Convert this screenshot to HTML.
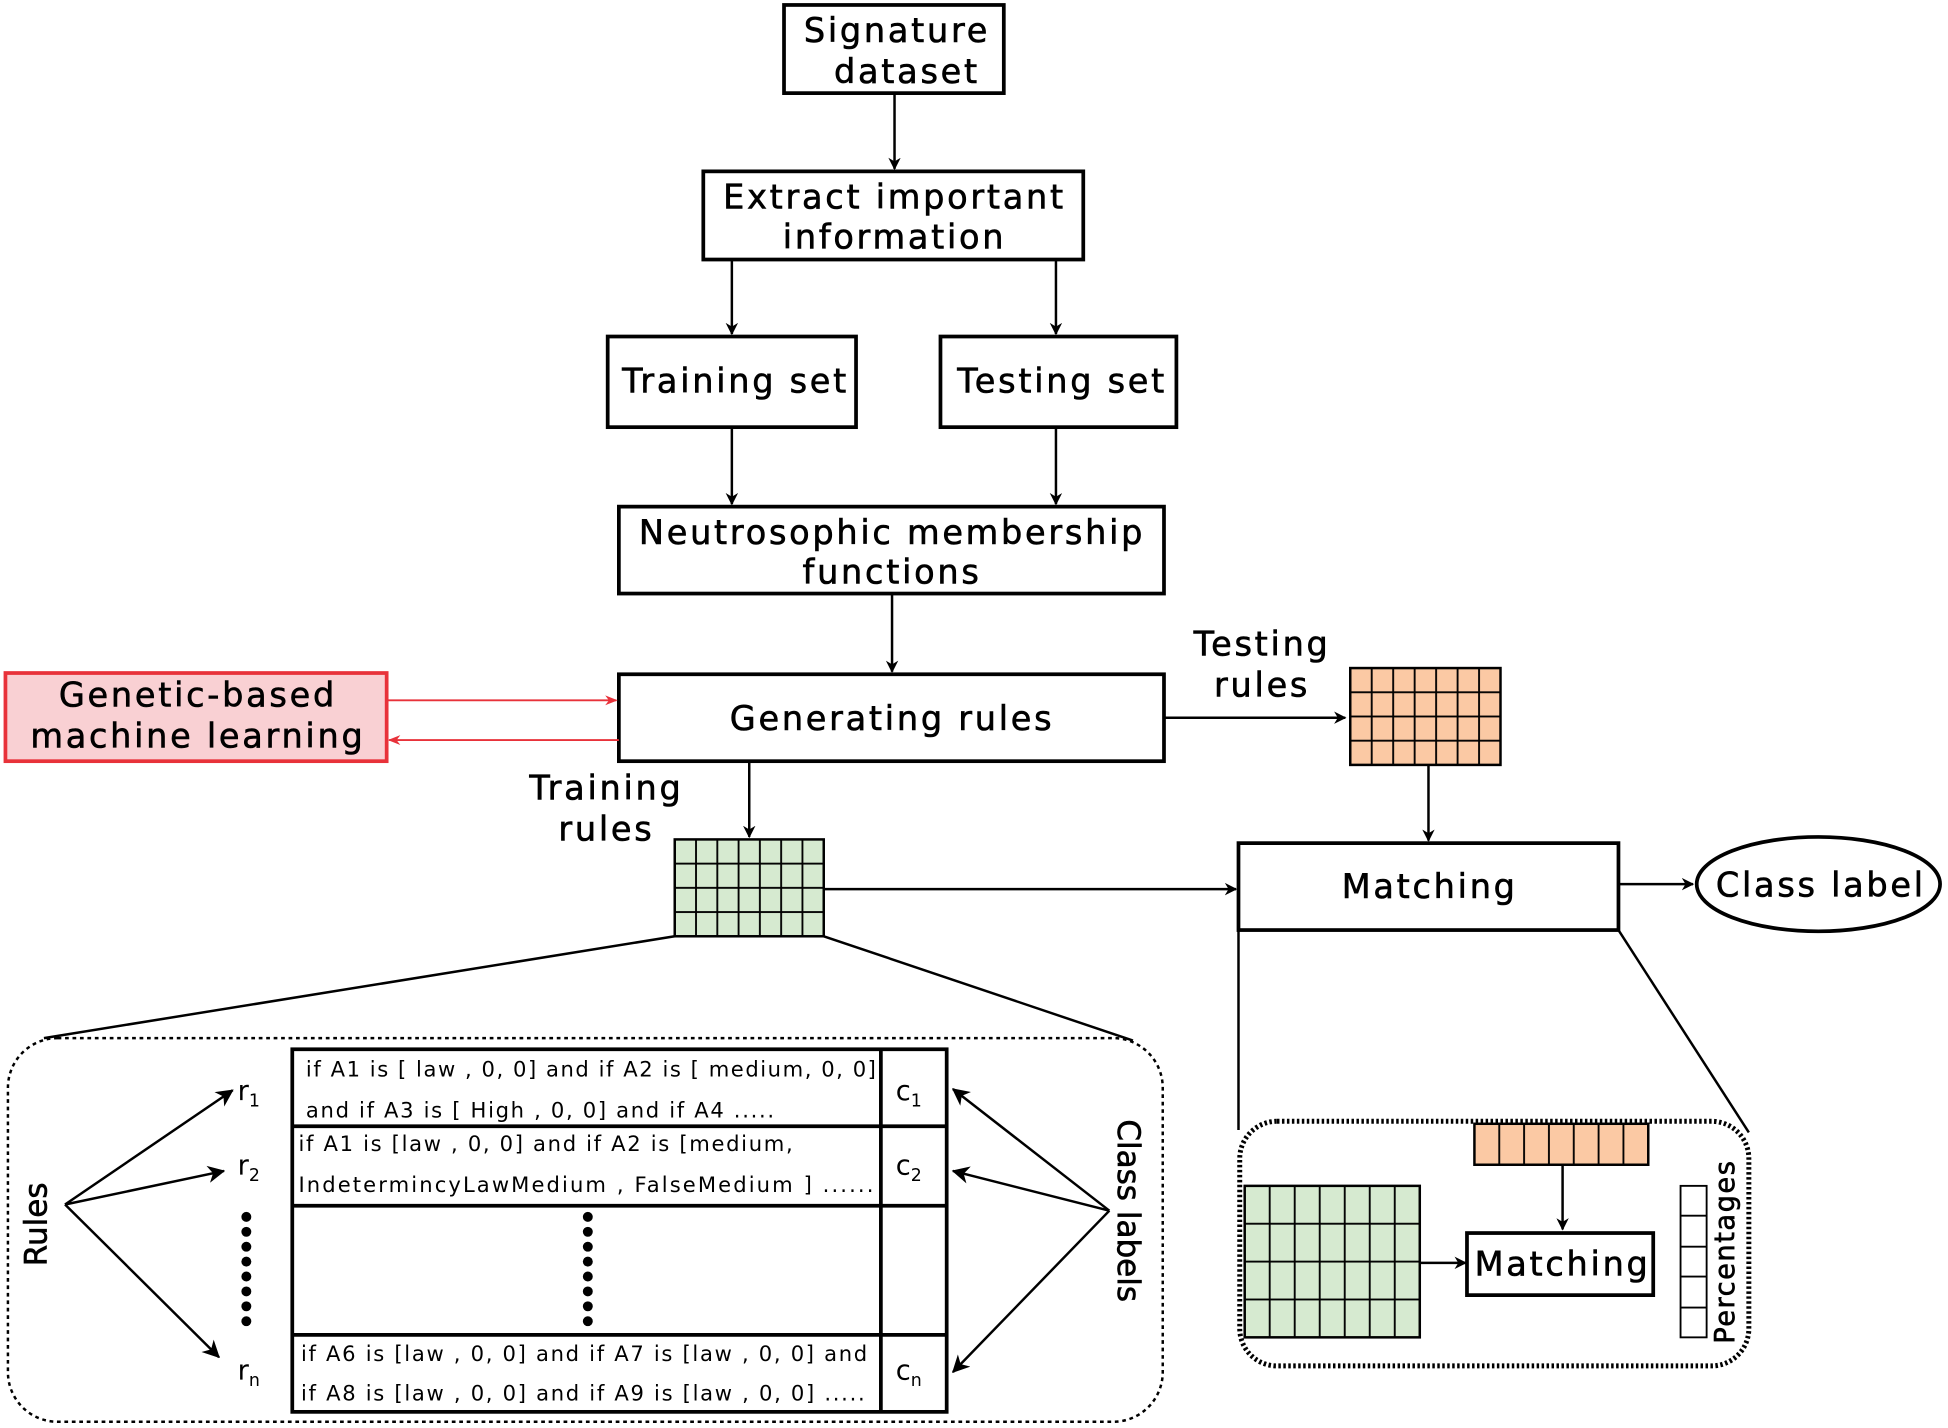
<!DOCTYPE html>
<html><head><meta charset="utf-8"><style>html,body{margin:0;padding:0;background:#fff}svg{display:block}</style></head>
<body>
<svg width="1948" height="1428" viewBox="0 0 1568 1150" xmlns="http://www.w3.org/2000/svg" font-family="'DejaVu Sans','Liberation Sans',sans-serif">
<defs>
<marker id="a" markerWidth="10" markerHeight="10" refX="9" refY="5" orient="auto" markerUnits="userSpaceOnUse" viewBox="0 0 10 10"><path d="M0,0 L10,5 L0,10 L3,5 z" fill="#000"/></marker>
<marker id="b" markerWidth="14" markerHeight="14" refX="13" refY="7" orient="auto" markerUnits="userSpaceOnUse" viewBox="0 0 14 14"><path d="M0,0 L14,7 L0,14 L4,7 z" fill="#000"/></marker>
<marker id="r" markerWidth="10" markerHeight="10" refX="9" refY="5" orient="auto" markerUnits="userSpaceOnUse" viewBox="0 0 10 10"><path d="M0,1 L10,5 L0,9 L3,5 z" fill="#e8323a"/></marker>
<pattern id="gg" x="543" y="676" width="17.14" height="19.5" patternUnits="userSpaceOnUse"><rect width="17.14" height="19.5" fill="#d6ead0" stroke="#000" stroke-width="1.5"/></pattern>
<pattern id="og" x="1087" y="538" width="17.29" height="19.5" patternUnits="userSpaceOnUse"><rect width="17.29" height="19.5" fill="#fbc9a4" stroke="#000" stroke-width="1.5"/></pattern>
<pattern id="gg2" x="1002" y="955" width="20.14" height="30.5" patternUnits="userSpaceOnUse"><rect width="20.14" height="30.5" fill="#d6ead0" stroke="#000" stroke-width="1.5"/></pattern>
<pattern id="og2" x="1187" y="905" width="20" height="33" patternUnits="userSpaceOnUse"><rect width="20" height="33" fill="#fbc9a4" stroke="#000" stroke-width="1.5"/></pattern>
</defs>
<g fill="none" stroke="#000" stroke-width="3">
<rect x="631" y="4" width="177" height="71"/>
<rect x="566" y="138" width="306" height="71"/>
<rect x="489" y="271" width="200" height="73"/>
<rect x="757" y="271" width="190" height="73"/>
<rect x="498" y="408" width="439" height="70"/>
<rect x="498" y="543" width="439" height="70"/>
<rect x="997" y="679" width="306" height="70"/>
<ellipse cx="1464" cy="712" rx="98" ry="38"/>
</g>
<rect x="4" y="542" width="307" height="71" fill="#f9d0d3" stroke="#e8323a" stroke-width="3"/>
<g stroke="#000" stroke-width="2" fill="none" marker-end="url(#a)">
<line x1="720" y1="75" x2="720" y2="136"/>
<line x1="589" y1="209" x2="589" y2="269"/>
<line x1="850" y1="209" x2="850" y2="269"/>
<line x1="589" y1="344" x2="589" y2="406"/>
<line x1="850" y1="344" x2="850" y2="406"/>
<line x1="718" y1="478" x2="718" y2="541"/>
<line x1="937" y1="578" x2="1083" y2="578"/>
<line x1="1150" y1="616" x2="1150" y2="677"/>
<line x1="603" y1="613" x2="603" y2="674"/>
<line x1="663" y1="716" x2="995" y2="716"/>
<line x1="1303" y1="712" x2="1363" y2="712"/>
<line x1="1258" y1="938" x2="1258" y2="990"/>
<line x1="1143" y1="1017" x2="1180" y2="1017"/>
</g>
<g stroke="#e8323a" stroke-width="1.5" marker-end="url(#r)">
<line x1="311" y1="564" x2="496" y2="564"/>
<line x1="498" y1="596" x2="313" y2="596"/>
</g>
<rect x="1087" y="538" width="121" height="78" fill="url(#og)" stroke="#000" stroke-width="2"/>
<rect x="543" y="676" width="120" height="78" fill="url(#gg)" stroke="#000" stroke-width="2"/>
<g stroke="#000" stroke-width="2">
<line x1="543" y1="754" x2="35" y2="836"/>
<line x1="663" y1="754" x2="912" y2="838"/>
<line x1="997" y1="749" x2="997" y2="910"/>
<line x1="1303" y1="749" x2="1408" y2="912"/>
</g>
<rect x="6" y="836" width="930" height="309" rx="40" fill="none" stroke="#000" stroke-width="2" stroke-dasharray="3,3"/>
<rect x="998" y="903" width="410" height="197" rx="30" fill="none" stroke="#000" stroke-width="4" stroke-dasharray="2,2"/>
<rect x="1187" y="905" width="140" height="33" fill="url(#og2)" stroke="#000" stroke-width="2"/>
<rect x="1002" y="955" width="141" height="122" fill="url(#gg2)" stroke="#000" stroke-width="2"/>
<rect x="1181" y="993" width="150" height="50" fill="none" stroke="#000" stroke-width="3"/>
<g fill="none" stroke="#000" stroke-width="1.5">
<rect x="1353" y="955" width="21" height="122"/>
<line x1="1353" y1="979" x2="1374" y2="979"/><line x1="1353" y1="1004" x2="1374" y2="1004"/>
<line x1="1353" y1="1028" x2="1374" y2="1028"/><line x1="1353" y1="1053" x2="1374" y2="1053"/>
</g>
<g fill="none" stroke="#000" stroke-width="3">
<rect x="235" y="845" width="527" height="292"/>
<line x1="709" y1="845" x2="709" y2="1137"/>
<line x1="235" y1="907" x2="762" y2="907"/>
<line x1="235" y1="971" x2="762" y2="971"/>
<line x1="235" y1="1075" x2="762" y2="1075"/>
</g>
<g stroke="#000" stroke-width="2" marker-end="url(#b)">
<line x1="52" y1="970" x2="187" y2="878"/>
<line x1="52" y1="970" x2="180" y2="943"/>
<line x1="52" y1="970" x2="176" y2="1093"/>
<line x1="893" y1="975" x2="767" y2="877"/>
<line x1="893" y1="975" x2="767" y2="943"/>
<line x1="893" y1="975" x2="767" y2="1105"/>
</g>
<g fill="#000">
<circle cx="198" cy="980" r="4"/><circle cx="198" cy="992" r="4"/><circle cx="198" cy="1004" r="4"/><circle cx="198" cy="1016" r="4"/><circle cx="198" cy="1028" r="4"/><circle cx="198" cy="1040" r="4"/><circle cx="198" cy="1052" r="4"/><circle cx="198" cy="1064" r="4"/>
<circle cx="473" cy="980" r="4"/><circle cx="473" cy="992" r="4"/><circle cx="473" cy="1004" r="4"/><circle cx="473" cy="1016" r="4"/><circle cx="473" cy="1028" r="4"/><circle cx="473" cy="1040" r="4"/><circle cx="473" cy="1052" r="4"/><circle cx="473" cy="1064" r="4"/>
</g>
<g font-size="27" text-anchor="middle" fill="#000" stroke="#000" stroke-width="0.5" letter-spacing="2.2">
<text x="722" y="34">Signature</text><text x="730" y="67">dataset</text>
<text x="720" y="168">Extract important</text><text x="720" y="200">information</text>
<text x="592" y="316">Training set</text>
<text x="855" y="316">Testing set</text>
<text x="718" y="438">Neutrosophic membership</text><text x="718" y="470">functions</text>
<text x="718" y="588">Generating rules</text>
<text x="159" y="569">Genetic-based</text><text x="159" y="602">machine learning</text>
<text x="1016" y="528">Testing</text><text x="1016" y="561">rules</text>
<text x="488" y="644">Training</text><text x="488" y="677">rules</text>
<text x="1151" y="723">Matching</text>
<text x="1466" y="722">Class label</text>
<text x="1258" y="1027">Matching</text>
<text transform="translate(37,986) rotate(-90)" font-size="25" letter-spacing="0">Rules</text>
<text transform="translate(900,975) rotate(90)" font-size="25" letter-spacing="0">Class labels</text>
<text transform="translate(1396,1008) rotate(-90)" font-size="22" letter-spacing="1.2">Percentages</text>
</g>
<g font-size="22" fill="#000">
<text x="191" y="886">r<tspan font-size="14" dy="5">1</tspan></text>
<text x="191" y="946">r<tspan font-size="14" dy="5">2</tspan></text>
<text x="191" y="1111">r<tspan font-size="14" dy="5">n</tspan></text>
<text x="721" y="886">c<tspan font-size="14" dy="5">1</tspan></text>
<text x="721" y="946">c<tspan font-size="14" dy="5">2</tspan></text>
<text x="721" y="1111">c<tspan font-size="14" dy="5">n</tspan></text>
</g>
<g font-size="17" fill="#000" lengthAdjust="spacing">
<text x="246" y="867" textLength="459">if A1 is [ law , 0, 0] and if A2 is [ medium, 0, 0]</text>
<text x="246" y="900" textLength="377">and if A3 is [ High , 0, 0] and if A4 .....</text>
<text x="240" y="927" textLength="398">if A1 is [law , 0, 0] and if A2 is [medium,</text>
<text x="240" y="960" textLength="463">IndetermincyLawMedium ,  FalseMedium ] ......</text>
<text x="242" y="1096" textLength="456">if A6 is [law , 0, 0] and if A7 is [law , 0, 0] and</text>
<text x="242" y="1128" textLength="454">if A8 is [law , 0, 0] and if A9 is [law , 0, 0] .....</text>
</g>
</svg>
</body></html>
